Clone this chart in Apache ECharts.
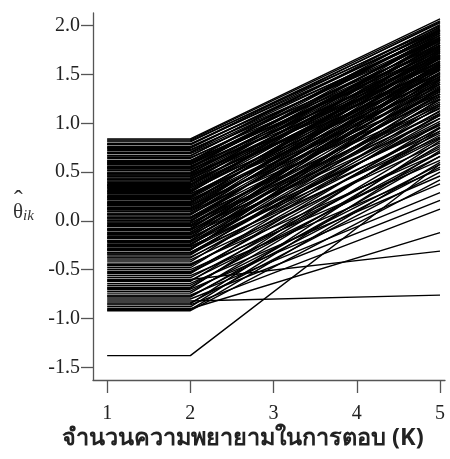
<!DOCTYPE html>
<html>
<head>
<meta charset="utf-8">
<script src="https://cdn.jsdelivr.net/npm/echarts@6/dist/echarts.min.js"></script>
<style>
html,body{margin:0;padding:0;background:#fff;}
#chart{width:450px;height:459px;}
</style>
</head>
<body>
<div id="chart"></div>
<script>
// Attempt numbers (K) where each examinee's estimate is recorded
var kTicks = [1, 2, 3, 4, 5];
var yTicks = [-1.5, -1.0, -0.5, 0.0, 0.5, 1.0, 1.5, 2.0];
// theta estimate at K=1 and K=2 (identical), and at K=5
var thetaK12 = [
  0.84, 0.83, 0.82, 0.81, 0.79, 0.78, 0.76, 0.75, 0.73, 0.72, 0.70, 0.69, 0.67, 0.65, 0.64, 0.62,
  0.61, 0.60, 0.59, 0.58, 0.56, 0.55, 0.54, 0.53, 0.52, 0.50, 0.49, 0.48, 0.47, 0.46, 0.44, 0.43,
  0.42, 0.41, 0.40, 0.38, 0.37, 0.36, 0.35, 0.34, 0.32, 0.31, 0.30, 0.29, 0.28, 0.26, 0.25, 0.24,
  0.23, 0.22, 0.20, 0.19, 0.18, 0.17, 0.16, 0.14, 0.13, 0.12, 0.11, 0.10, 0.08, 0.07, 0.06, 0.04,
  0.03, 0.02, 0.00, -0.01, -0.02, -0.04, -0.05, -0.06, -0.08, -0.09, -0.10, -0.12, -0.13, -0.14,
  -0.16, -0.17, -0.18, -0.20, -0.21, -0.22, -0.24, -0.25, -0.26, -0.28, -0.29, -0.30, -0.32, -0.33,
  -0.34, -0.35,
  -0.38, -0.40, -0.42, -0.44, -0.46, -0.48, -0.50, -0.52, -0.54, -0.56, -0.58, -0.60, -0.62, -0.64,
  -0.66, -0.68, -0.70, -0.72, -0.74, -0.76, -0.78, -0.80, -0.82, -0.84, -0.86, -0.88, -0.90, -0.91,
  -0.92, -1.38,
  0.615, 0.595, 0.575, 0.545, 0.515, 0.485, 0.455, 0.425, 0.395, 0.365, 0.335, 0.305, 0.275, 0.245,
  0.215, 0.185, 0.155, 0.125, 0.095, 0.065, 0.035, 0.005, -0.025, -0.055, -0.085, -0.115, -0.145,
  -0.175, -0.205, -0.235, -0.265, -0.295, -0.325, 0.665, 0.705, 0.745, 0.785,
  -0.37, -0.45, -0.53, -0.61, -0.69, -0.77, -0.85
];
var thetaK5 = [
  2.07, 2.05, 1.98, 2.03, 1.95, 2.00, 1.90, 1.97, 1.85, 1.93, 1.88, 1.80, 1.92, 1.76, 1.86, 1.70,
  1.95, 1.82, 1.74, 1.88, 1.66, 1.90, 1.78, 1.60, 1.84, 1.72, 1.92, 1.55, 1.80, 1.68, 1.86, 1.62,
  1.75, 1.50, 1.82, 1.70, 1.58, 1.88, 1.64, 1.45, 1.77, 1.56, 1.70, 1.83, 1.40, 1.66, 1.52, 1.74,
  1.60, 1.35, 1.68, 1.48, 1.80, 1.57, 1.30, 1.64, 1.44, 1.72, 1.52, 1.25, 1.60, 1.38, 1.67, 1.46,
  1.20, 1.55, 1.34, 1.62, 1.15, 1.42, 1.50, 1.28, 1.58, 1.10, 1.37, 1.45, 1.22, 1.05,
  1.33, 1.52, 1.16, 1.40, 0.98, 1.27, 1.08, 1.35, 0.92, 1.20, 1.02, 1.44, 0.86, 1.13,
  0.95, 1.25,
  1.05, 0.80, 1.18, 0.70, 0.96, 1.10, 0.62, 0.88, 1.00, 0.53, 0.76, -0.31, 0.92, 0.46,
  0.70, 0.84, 0.38, 0.58, 0.78, 0.29, 0.66, 0.21, -0.76, 0.50, 0.12, 0.72, -0.12, 0.60,
  0.42, 0.58,
  1.99, 1.87, 1.79, 1.96, 1.69, 1.85, 1.63, 1.90, 1.58, 1.78, 1.67, 1.86, 1.54, 1.73,
  1.47, 1.76, 1.61, 1.42, 1.69, 1.50, 1.32, 1.59, 1.40, 1.18, 1.48, 1.30, 1.56,
  1.12, 1.36, 1.24, 1.00, 1.30, 1.08, 1.94, 2.01, 1.96, 2.04,
  0.90, 0.85, 0.74, 0.66, 0.95, 0.55, 0.82
];

var series = thetaK12.map(function (s, i) {
  return {
    type: 'line',
    data: [[1, s], [2, s], [5, thetaK5[i]]],
    symbol: 'none',
    silent: true,
    lineStyle: { color: '#000', width: 1.4 },
    animation: false
  };
});

var chart = echarts.init(document.getElementById('chart'), null, { renderer: 'canvas' });
chart.setOption({
  backgroundColor: '#fff',
  animation: false,
  grid: { left: 93, right: 5, top: 13, bottom: 79, containLabel: false },
  xAxis: {
    type: 'value', min: 0.83, max: 5.06,
    splitLine: { show: false },
    axisLine: { show: true, onZero: false, lineStyle: { color: '#555', width: 1.3 } },
    axisTick: { show: true, length: 13, customValues: kTicks, lineStyle: { color: '#555', width: 1.3 } },
    axisLabel: { customValues: kTicks, margin: 24, fontFamily: 'Liberation Serif', fontSize: 20, color: '#222',
      formatter: function (v) { return String(v); } }
  },
  yAxis: {
    type: 'value', min: -1.63, max: 2.13,
    splitLine: { show: false },
    axisLine: { show: true, onZero: false, lineStyle: { color: '#555', width: 1.3 } },
    axisTick: { show: true, length: 12, customValues: yTicks, lineStyle: { color: '#555', width: 1.3 } },
    axisLabel: { customValues: yTicks, margin: 13, fontFamily: 'Liberation Serif', fontSize: 20, color: '#222',
      formatter: function (v) { return v.toFixed(1); } }
  },
  graphic: [
    {
      type: 'text', left: 14, top: 188,
      style: { text: '\u02C6', font: '26px "Liberation Serif"', fill: '#333' }
    },
    {
      type: 'text', left: 13, top: 202,
      style: {
        text: '{t|\u03B8}{s|ik}',
        rich: {
          t: { fontFamily: 'Liberation Serif', fontSize: 21, fill: '#333' },
          s: { fontFamily: 'Liberation Serif', fontStyle: 'italic', fontSize: 15, fill: '#333', padding: [8, 0, 0, 0] }
        }
      }
    },
    {
      type: 'text', left: 62, top: 426,
      style: {
        text: 'จำนวนความพยายามในการตอบ (K)',
        font: 'bold 23.5px "Noto Sans", sans-serif',
        fill: '#222'
      }
    }
  ],
  series: series
});
</script>
</body>
</html>
